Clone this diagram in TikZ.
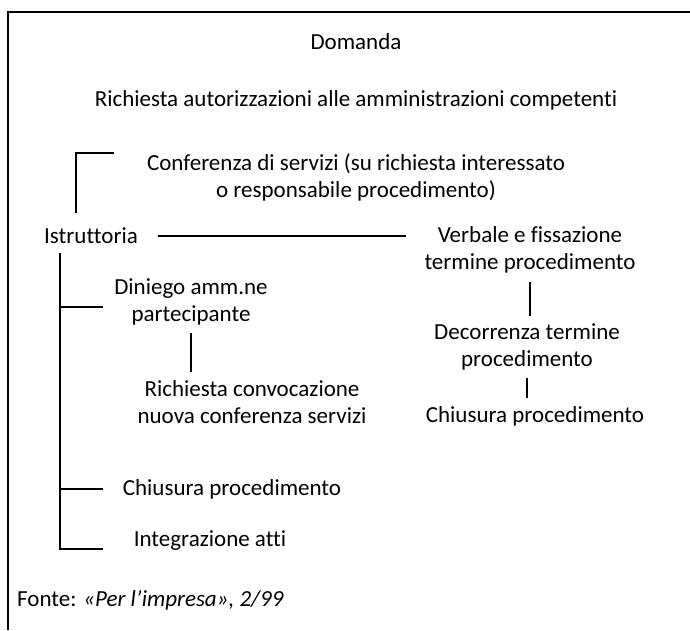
\documentclass[tikz,border=0pt]{standalone}
\usepackage{fontspec}
\setmainfont{Carlito}[Ligatures=CommonOff]
\usetikzlibrary{positioning}

\begin{document}
\begin{tikzpicture}[x=1pt,y=-1pt,
    every node/.style={font=\fontsize{23}{27}\selectfont, align=center, inner sep=0pt},
    rule/.style={line width=1.6pt}]
  \useasboundingbox (0,0) rectangle (690,630);
  % cornice
  \draw[rule] (690,12) -| (8,630);

  \node (dom)    at (356,42)  {Domanda};
  \node (rich)   at (356,100) {Richiesta autorizzazioni alle amministrazioni competenti};
  \node (conf)   at (356,177) {Conferenza di servizi (su richiesta interessato\\o responsabile procedimento)};
  \node (istr)   at (91,236)  {Istruttoria};
  \node (verb)   at (530,250) {Verbale e fissazione\\termine procedimento};
  \node (dec)    at (527,347) {Decorrenza termine\\procedimento};
  \node (chiudx) at (535,416) {Chiusura procedimento};
  \node (din)    at (191,302) {Diniego amm.ne\\partecipante};
  \node (conv)   at (252,402) {Richiesta convocazione\\nuova conferenza servizi};
  \node (chiusx) at (232,489) {Chiusura procedimento};
  \node (integr) at (210,541) {Integrazione atti};
  \node[anchor=west] (fonte) at (17,600) {Fonte: \textit{«Per l’impresa», 2/99}};

  \coordinate (confsu) at (114,153);
  \coordinate (confgiu) at (76,213);
  \coordinate (spine) at (60,253);
  \coordinate (spinegiu) at (60,549);

  \draw[rule] (confsu) -| (confgiu);
  \draw[rule, shorten <=20pt, shorten >=18pt] (istr.east) -- (istr.east -| verb.west);
  \draw[rule, shorten <=8pt, shorten >=8pt] (verb.south) -- (verb.south |- dec.north);
  \draw[rule, shorten <=8pt, shorten >=8pt] (dec.south) -- (dec.south |- chiudx.north);
  \draw[rule, shorten <=8pt, shorten >=8pt] (din.south) -- (din.south |- conv.north);
  % rami dell'istruttoria
  \draw[rule] (spine) -- (spinegiu) -- ++(43,0);
  \draw[rule] (spine |- 0,307) -- ++(43,0);
  \draw[rule] (spine |- chiusx) -- ++(43,0);
\end{tikzpicture}
\end{document}
